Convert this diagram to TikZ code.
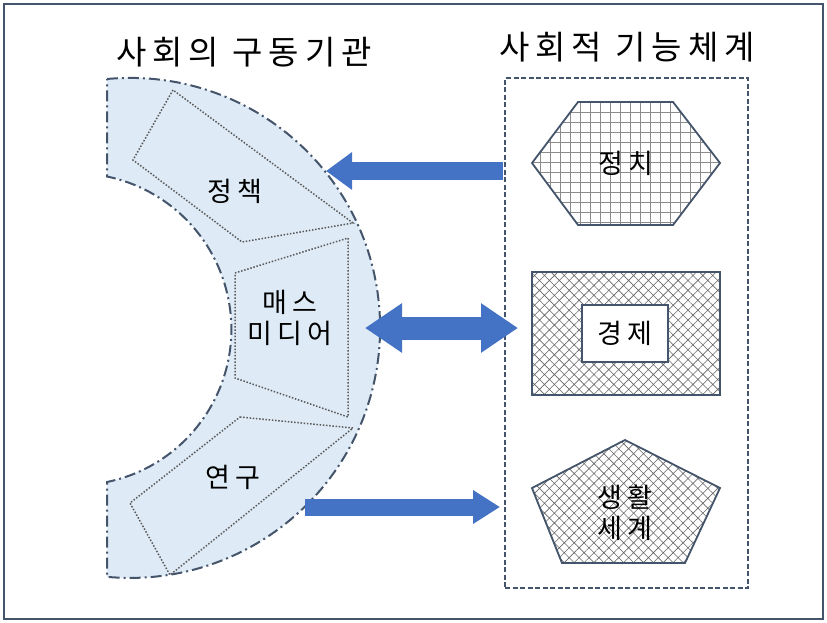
\documentclass[tikz,border=0pt]{standalone}
\usepackage{fontspec}
\setmainfont[LetterSpace=18]{Noto Sans CJK KR}
\usepackage{tikz}
\usetikzlibrary{positioning}
\usetikzlibrary{arrows.meta}
\usetikzlibrary{patterns.meta}
\definecolor{slate}{RGB}{68,84,106}
\definecolor{bandfill}{RGB}{222,235,247}
\definecolor{arrowblue}{RGB}{68,114,196}
\tikzstyle{title}=[font=\fontsize{33}{38}\selectfont, inner sep=0pt]
\tikzstyle{word}=[font=\fontsize{27}{31}\selectfont, inner sep=0pt, align=center]
\tikzstyle{band}=[fill=bandfill, draw=slate, line width=2pt, dash pattern=on 11pt off 4pt on 2pt off 4pt]
\tikzstyle{part}=[draw=black!65, line width=1.5pt, dash pattern=on 1.5pt off 1.7pt]
\tikzstyle{funcbox}=[draw=slate, line width=2pt, dash pattern=on 5pt off 2.5pt, minimum width=243pt, minimum height=510pt, inner sep=0pt]
\tikzstyle{shapeline}=[draw=slate, line width=1.8pt]
\tikzstyle{gridfill}=[pattern={Hatch[distance=10pt, angle=0, line width=0.5pt]}, pattern color=black!45]
\tikzstyle{netfill}=[pattern={Hatch[distance=7pt, angle=45, line width=0.6pt]}, pattern color=black!60]
\tikzstyle{blockarrow}=[draw=arrowblue, fill=arrowblue]

\begin{document}
\begin{tikzpicture}[x=1pt, y=-1pt]
            \useasboundingbox (0,0) rectangle (827,622);
            \draw[draw=slate, line width=2.5pt] (4,4) rectangle (823,619);

            \node[title] (drive) at (244,52) {사회의 구동기관};
            \node[title] (system) at (627,47) {사회적 기능체계};

            \path[band] (107,79) arc[start angle=-95.3, end angle=95.3, radius=250]
                -- (107,482) arc[start angle=78.3, end angle=-78.3, radius=156] -- cycle;

            \draw[part] (173,90) -- (133,160) -- (242,242) -- (353,223) -- cycle;
            \draw[part] (235,273) -- (348,238) -- (348,417) -- (235,378) -- cycle;
            \draw[part] (240,417) -- (353,428) -- (170,575) -- (130,503) -- cycle;

            \node[word] (policy) at (235,191) {정책};
            \node[word] (media) at (290,318) {매스\\미디어};
            \node[word] (research) at (233,477) {연구};

            \node[funcbox] (func) at (626.5,333) {};

            \draw[shapeline, gridfill] (532,163) -- (578,102) -- (673,102) -- (720,163) -- (673,225) -- (578,225) -- cycle;
            \draw[shapeline, netfill, line width=2.5pt] (532,272) rectangle (720,395);
            \draw[shapeline, fill=white] (582,305) rectangle (668,362);
            \draw[shapeline, netfill] (625,440) -- (720,488) -- (685,563) -- (562,563) -- (532,488) -- cycle;

            \node[word] (politics) at (626,163) {정치};
            \node[word] (economy) at (625,333) {경제};
            \node[word] (life) at (625,513) {생활\\세계};

            \coordinate (a1s) at (503,171);
            \coordinate (a1e) at (326,171);
            \coordinate (a2s) at (365,328);
            \coordinate (a2e) at (518,328);
            \coordinate (a3s) at (305,507);
            \coordinate (a3e) at (500,507);

            \draw[blockarrow, line width=18pt, -{Triangle[length=26pt, width=36pt]}] (a1s) -- (a1e);
            \draw[blockarrow, line width=23pt, {Triangle[length=37pt, width=47pt]}-{Triangle[length=37pt, width=47pt]}] (a2s) -- (a2e);
            \draw[blockarrow, line width=17pt, -{Triangle[length=27pt, width=32pt]}] (a3s) -- (a3e);
        \end{tikzpicture}
\end{document}
